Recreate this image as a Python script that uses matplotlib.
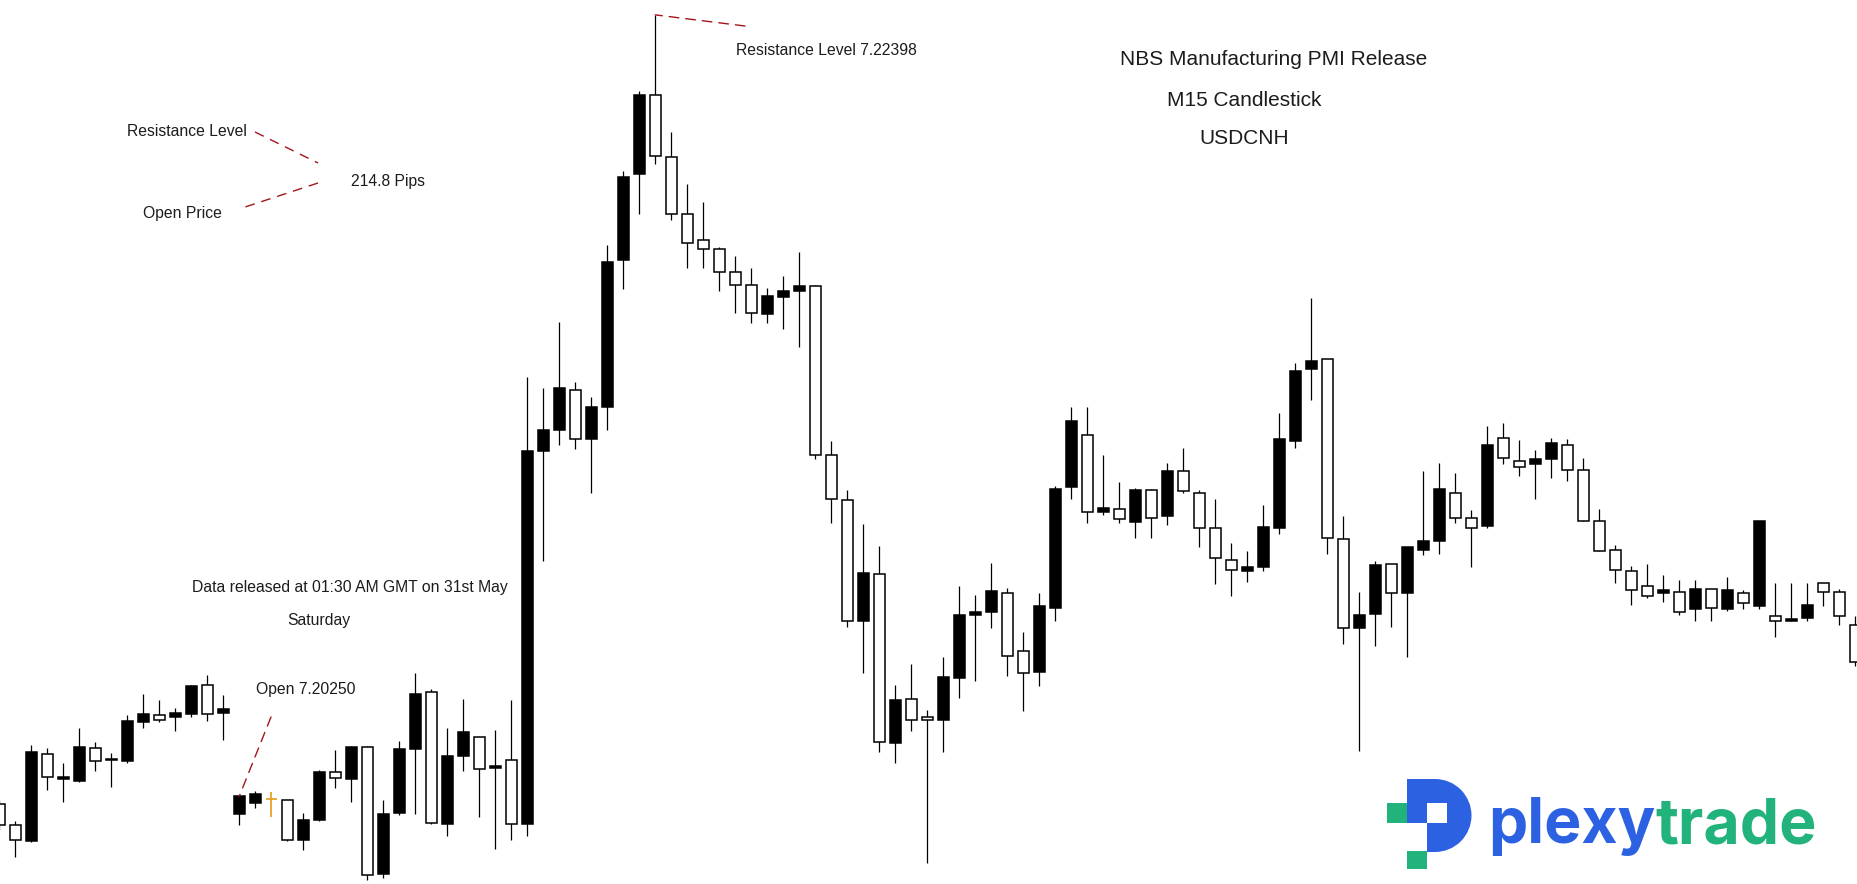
import matplotlib
matplotlib.use("Agg")
import matplotlib.pyplot as plt
from matplotlib.patches import Rectangle, Wedge
from matplotlib.transforms import Affine2D

# USDCNH M15 candles (black = up, white = down)
opens = [7.20277, 7.20220, 7.20177, 7.20411, 7.20345, 7.20339, 7.20427, 7.20394, 7.20392, 7.20497,
         7.20515, 7.20511, 7.20519, 7.20597, 7.20522, 7.20250, 7.20280, 7.20290, 7.20289, 7.20179,
         7.20233, 7.20364, 7.20345, 7.20431, 7.20090, 7.20253, 7.20426, 7.20579, 7.20224, 7.20406,
         7.20458, 7.20375, 7.20394, 7.20222, 7.21227, 7.21281, 7.21389, 7.21257, 7.21343, 7.21738,
         7.21969, 7.22184, 7.22015, 7.21862, 7.21792, 7.21768, 7.21706, 7.21673, 7.21593, 7.21641,
         7.21655, 7.21669, 7.21216, 7.21093, 7.20768, 7.20895, 7.20442, 7.20558, 7.20512, 7.20503,
         7.20616, 7.20784, 7.20792, 7.20843, 7.20687, 7.20633, 7.20805, 7.21130, 7.21270, 7.21063,
         7.21071, 7.21036, 7.21120, 7.21052, 7.21171, 7.21114, 7.21020, 7.20932, 7.20902, 7.20913,
         7.21018, 7.21254, 7.21445, 7.21472, 7.20988, 7.20749, 7.20789, 7.20923, 7.20843, 7.20961,
         7.20985, 7.21114, 7.21047, 7.21023, 7.21262, 7.21198, 7.21190, 7.21203, 7.21243, 7.21176,
         7.21039, 7.20961, 7.20902, 7.20862, 7.20843, 7.20848, 7.20800, 7.20856, 7.20802, 7.20843,
         7.20810, 7.20781, 7.20770, 7.20776, 7.20870, 7.20848, 7.20757]
highs = [7.20288, 7.20231, 7.20435, 7.20427, 7.20387, 7.20481, 7.20444, 7.20414, 7.20516, 7.20573,
         7.20556, 7.20535, 7.20597, 7.20624, 7.20570, 7.20298, 7.20312, 7.20310, 7.20289, 7.20253,
         7.20368, 7.20422, 7.20433, 7.20433, 7.20288, 7.20446, 7.20629, 7.20586, 7.20481, 7.20559,
         7.20458, 7.20476, 7.20556, 7.21425, 7.21395, 7.21573, 7.21411, 7.21371, 7.21780, 7.21979,
         7.22194, 7.22398, 7.22082, 7.21944, 7.21895, 7.21773, 7.21750, 7.21718, 7.21664, 7.21696,
         7.21760, 7.21673, 7.21253, 7.21121, 7.21030, 7.20970, 7.20597, 7.20653, 7.20530, 7.20672,
         7.20863, 7.20839, 7.20925, 7.20858, 7.20739, 7.20844, 7.21132, 7.21344, 7.21344, 7.21215,
         7.21142, 7.21126, 7.21124, 7.21194, 7.21234, 7.21122, 7.21097, 7.20979, 7.20957, 7.21081,
         7.21328, 7.21462, 7.21637, 7.21472, 7.21051, 7.20847, 7.20930, 7.20923, 7.20968, 7.21172,
         7.21194, 7.21167, 7.21067, 7.21293, 7.21301, 7.21255, 7.21229, 7.21261, 7.21258, 7.21206,
         7.21071, 7.20974, 7.20917, 7.20923, 7.20892, 7.20880, 7.20878, 7.20856, 7.20886, 7.20853,
         7.21039, 7.20870, 7.20870, 7.20870, 7.20870, 7.20856, 7.20781]
lows = [7.20207, 7.20134, 7.20175, 7.20315, 7.20282, 7.20337, 7.20366, 7.20323, 7.20388, 7.20481,
        7.20497, 7.20473, 7.20511, 7.20500, 7.20449, 7.20220, 7.20266, 7.20241, 7.20177, 7.20153,
        7.20231, 7.20320, 7.20282, 7.20074, 7.20079, 7.20247, 7.20250, 7.20224, 7.20192, 7.20367,
        7.20241, 7.20157, 7.20179, 7.20192, 7.20929, 7.21241, 7.21230, 7.21112, 7.21281, 7.21661,
        7.21862, 7.21996, 7.21848, 7.21719, 7.21719, 7.21655, 7.21596, 7.21569, 7.21571, 7.21555,
        7.21504, 7.21203, 7.21031, 7.20753, 7.20629, 7.20418, 7.20387, 7.20474, 7.20118, 7.20418,
        7.20561, 7.20608, 7.20749, 7.20622, 7.20526, 7.20594, 7.20768, 7.21097, 7.21031, 7.21054,
        7.21031, 7.20991, 7.20993, 7.21028, 7.21112, 7.20969, 7.20867, 7.20835, 7.20875, 7.20902,
        7.21004, 7.21233, 7.21364, 7.20950, 7.20706, 7.20419, 7.20703, 7.20754, 7.20671, 7.20945,
        7.20950, 7.21031, 7.20913, 7.21018, 7.21191, 7.21159, 7.21098, 7.21152, 7.21144, 7.21039,
        7.20958, 7.20870, 7.20813, 7.20832, 7.20819, 7.20786, 7.20770, 7.20770, 7.20797, 7.20800,
        7.20802, 7.20727, 7.20770, 7.20770, 7.20808, 7.20757, 7.20647]
closes = [7.20220, 7.20180, 7.20417, 7.20349, 7.20349, 7.20430, 7.20392, 7.20397, 7.20500, 7.20519,
          7.20504, 7.20522, 7.20594, 7.20520, 7.20532, 7.20298, 7.20304, 7.20290, 7.20180, 7.20235,
          7.20362, 7.20348, 7.20431, 7.20085, 7.20250, 7.20426, 7.20573, 7.20227, 7.20407, 7.20470,
          7.20372, 7.20378, 7.20222, 7.21226, 7.21282, 7.21395, 7.21259, 7.21344, 7.21733, 7.21963,
          7.22184, 7.22018, 7.21862, 7.21786, 7.21768, 7.21706, 7.21671, 7.21596, 7.21643, 7.21656,
          7.21668, 7.21214, 7.21096, 7.20768, 7.20898, 7.20445, 7.20556, 7.20504, 7.20504, 7.20618,
          7.20785, 7.20793, 7.20850, 7.20676, 7.20630, 7.20809, 7.21125, 7.21307, 7.21063, 7.21073,
          7.21042, 7.21122, 7.21047, 7.21173, 7.21117, 7.21020, 7.20937, 7.20905, 7.20914, 7.21022,
          7.21258, 7.21441, 7.21468, 7.20991, 7.20749, 7.20784, 7.20919, 7.20843, 7.20968, 7.20985,
          7.21125, 7.21047, 7.21020, 7.21242, 7.21206, 7.21182, 7.21203, 7.21246, 7.21176, 7.21039,
          7.20958, 7.20907, 7.20853, 7.20837, 7.20853, 7.20792, 7.20856, 7.20805, 7.20853, 7.20816,
          7.21039, 7.20770, 7.20774, 7.20813, 7.20848, 7.20781, 7.20660]

release_candle = 17        # the orange doji at the data release
open_candle = 15           # first candle of the week, open 7.20250
resistance_candle = 41     # high 7.22398

W, H = 1858, 884
fig = plt.figure(figsize=(W / 100, H / 100), dpi=100)
ax = fig.add_axes([0, 0, 1, 1])
ax.set_xlim(0.044, 116.17)
ax.set_ylim(7.20062, 7.22438)
ax.axis('off')

# pixel coords (y down) -> figure
pix = Affine2D().scale(1 / W, -1 / H).translate(0, 1) + fig.transFigure

body_w = 0.66
for i in range(len(opens)):
    o, h, l, c = opens[i], highs[i], lows[i], closes[i]
    if i == release_candle:
        ax.vlines(i, l, h, color='#e3a326', lw=1.3, zorder=2)
        ax.hlines(o, i - body_w / 2, i + body_w / 2, color='#e3a326', lw=1.3, zorder=2)
        continue
    ax.vlines(i, l, h, color='black', lw=0.9, zorder=1)
    face = 'black' if c > o else 'white'
    ax.add_patch(Rectangle((i - body_w / 2, min(o, c)), body_w, abs(c - o),
                           facecolor=face, edgecolor='black', lw=1.1, zorder=2))

txt = dict(family='Liberation Sans', fontsize=11.3, color='#1c1c1c', va='baseline', ha='left')
red = '#a3141c'
dash = (0, (7, 5))

def label(x, y, s, **kw):
    opts = dict(txt)
    opts.update(kw)
    fig.text(x / W, 1 - y / H, s, **opts)

def dline(x0, y0, x1, y1):
    ax.plot([x0, x1], [y0, y1], color=red, lw=1.0, linestyle=dash, transform=pix)

# title block
label(1120, 65, 'NBS Manufacturing PMI Release', fontsize=15)
label(1167, 106, 'M15 Candlestick', fontsize=15)
label(1199, 144, 'USDCNH', fontsize=15)

# resistance
label(736, 55, 'Resistance Level 7.22398')
ax.annotate('', xy=(resistance_candle, highs[resistance_candle]), xytext=(745 / W, 1 - 26 / H),
            textcoords='axes fraction',
            arrowprops=dict(arrowstyle='-', color=red, lw=1.0, linestyle=dash, shrinkA=0, shrinkB=0))

# pip distance
label(127, 136, 'Resistance Level')
label(143, 218, 'Open Price')
label(351, 186, '214.8 Pips')
dline(255, 132, 318, 163)
dline(318, 183, 239, 209)

# release info
label(192, 592, 'Data released at 01:30 AM GMT on 31st May')
label(287, 625, 'Saturday')
label(256, 694, 'Open 7.20250')
ax.annotate('', xy=(open_candle, closes[open_candle]), xytext=(271 / W, 1 - 717 / H),
            textcoords='axes fraction',
            arrowprops=dict(arrowstyle='-', color=red, lw=1.0, linestyle=dash, shrinkA=0, shrinkB=0))

# logo
blue = '#2c62e2'
green = '#22b27c'
fig.add_artist(Rectangle((1407, 779), 28, 73, facecolor=blue, edgecolor='none', transform=pix))
fig.add_artist(Wedge((1435, 815.5), 36.5, -90, 90, facecolor=blue, edgecolor='none', transform=pix))
fig.add_artist(Rectangle((1427, 803), 20, 20, facecolor='white', edgecolor='none', transform=pix))
fig.add_artist(Rectangle((1407, 823), 20, 30, facecolor='white', edgecolor='none', transform=pix))
fig.add_artist(Rectangle((1387, 803), 20, 20, facecolor=green, edgecolor='none', transform=pix))
fig.add_artist(Rectangle((1407, 851), 20, 18, facecolor=green, edgecolor='none', transform=pix))
label(1488, 843, 'plexy', family='Inter', fontweight='bold', fontsize=45, color=blue)
label(1655, 843, 'trade', family='Inter', fontweight='bold', fontsize=45, color=green)

fig.savefig('out.png', dpi=100, facecolor='white')
